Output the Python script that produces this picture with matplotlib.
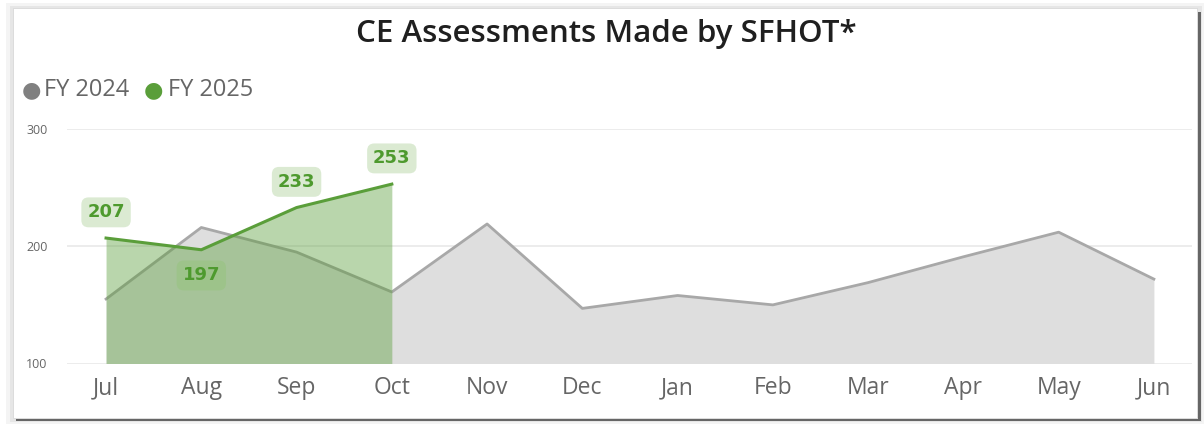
import matplotlib.pyplot as plt
import matplotlib.patches as mpatches
import numpy as np

plt.rcParams['font.family'] = ['Open Sans', 'DejaVu Sans']

months = ['Jul', 'Aug', 'Sep', 'Oct', 'Nov', 'Dec', 'Jan', 'Feb', 'Mar', 'Apr', 'May', 'Jun']
fy2024 = [155, 216, 195, 161, 219, 147, 158, 150, 169, 191, 212, 172]
fy2025 = [207, 197, 233, 253]
label_offsets = [1, -1, 1, 1]  # above / below the point

GRAY_LINE = '#a8a8a8'
GRAY_FILL = '#dedede'
GREEN = '#5a9e3a'
GREEN_TXT = '#4e9a2e'

W, H = 1204, 424
fig = plt.figure(figsize=(W / 100, H / 100), dpi=100)
fig.patch.set_facecolor('white')

# card with soft shadow
def px_rect(x0, y0, x1, y1, **kw):
    r = mpatches.Rectangle((x0 / W, 1 - y1 / H), (x1 - x0) / W, (y1 - y0) / H,
                           transform=fig.transFigure, **kw)
    fig.patches.append(r)

px_rect(6, 3, 1204, 424, facecolor='#f4f4f4', edgecolor='none', zorder=-6)
px_rect(10, 6, 1202, 422, facecolor='#e6e6e6', edgecolor='none', zorder=-5)
px_rect(16, 12, 1201, 421, facecolor='#666666', edgecolor='none', zorder=-4)
px_rect(13, 8, 1198, 419, facecolor='#dcdcdc', edgecolor='none', zorder=-3)
px_rect(14, 9, 1197, 418, facecolor='white', edgecolor='none', zorder=-2)

ax = fig.add_axes([67 / W, 1 - 363.5 / H, (1192 - 67) / W, (363.5 - 129) / H])
ax.set_facecolor('none')
x = np.arange(len(months))
x25 = np.arange(len(fy2025))

ax.fill_between(x, fy2024, 100, color=GRAY_FILL, lw=0, zorder=1)
ax.plot(x, fy2024, color=GRAY_LINE, lw=2, zorder=2)
ax.fill_between(x25, fy2025, 100, color=GREEN, alpha=0.42, lw=0, zorder=3)
ax.plot(x25, fy2025, color=GREEN, lw=2.2, zorder=4)

for xi, v, off in zip(x25, fy2025, label_offsets):
    box_c = '#d5e7cb' if off > 0 else '#9cc388'
    ax.annotate(str(v), (xi, v), xytext=(0, 18.5 * off), textcoords='offset points',
                ha='center', va='center', fontsize=13, fontweight='bold',
                color=GREEN_TXT, family=['DejaVu Sans'], zorder=6,
                bbox=dict(boxstyle='round,pad=0.33,rounding_size=0.4',
                          fc=box_c, ec='none', alpha=0.85))

ax.set_xlim(-0.41, len(months) - 1 + 0.4)
ax.set_ylim(100, 300)
ax.set_yticks([100, 200, 300])
ax.yaxis.grid(True, color='#e9e9e9', lw=1.2, zorder=0)
ax.set_axisbelow(True)
ax.set_xticks(x)
ax.set_xticklabels(months, fontsize=16.5, color='#666666')
ax.tick_params(axis='y', labelsize=9, colors='#666666', length=0, pad=14)
ax.tick_params(axis='x', length=0, pad=9)
for s in ax.spines.values():
    s.set_visible(False)

fig.text(606 / W, 1 - 34 / H, 'CE Assessments Made by SFHOT*', ha='center', va='center',
         fontsize=22.5, fontweight='semibold', color='#1f1f1f')

# legend
fig.text(22 / W, 1 - 90 / H, '\u25CF', ha='left', va='center', fontsize=16, color='#808080',
         family=['DejaVu Sans'])
fig.text(44 / W, 1 - 90 / H, 'FY 2024', ha='left', va='center', fontsize=17, color='#666666')
fig.text(144 / W, 1 - 90 / H, '\u25CF', ha='left', va='center', fontsize=16, color=GREEN,
         family=['DejaVu Sans'])
fig.text(168 / W, 1 - 90 / H, 'FY 2025', ha='left', va='center', fontsize=17, color='#666666')

fig.savefig('out.png', dpi=100, facecolor=fig.get_facecolor())
